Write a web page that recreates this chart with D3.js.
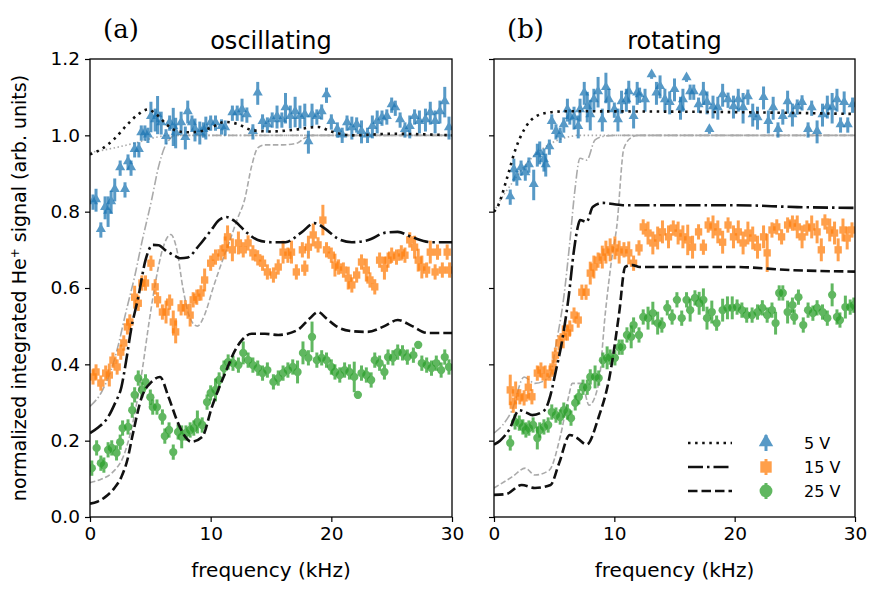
<!DOCTYPE html>
<html><head><meta charset="utf-8">
<script src="https://cdn.jsdelivr.net/npm/d3@7"></script>
<style>body{margin:0;background:#fff}svg{display:block}</style>
</head><body><svg id="c" width="885" height="595" font-family="DejaVu Sans"></svg>
<script>
// ---------- data: [frequency kHz, signal, error] ----------
const oscBlue=[[0.25,0.825,0.02],[0.5,0.83,0.03],[0.9,0.752,0.02],[1.25,0.81,0.03],[1.5,0.80,0.04],[1.75,0.825,0.03],[2.05,0.857,0.03],[2.5,0.914,0.02],[2.9,0.857,0.02],[3.15,0.93,0.02],[3.4,0.914,0.02],[3.7,0.962,0.02],[4.05,0.962,0.02],[4.25,1.006,0.02],[4.55,1.006,0.02],[4.8,1.0,0.02],[5.05,1.048,0.04],[5.4,1.04,0.03],[5.6,1.053,0.05],[5.9,1.032,0.03],[6.3,0.996,0.02],[6.6,1.032,0.02],[6.9,1.022,0.05],[7.1,1.006,0.04],[7.55,1.032,0.03],[7.9,0.993,0.03],[8.1,1.061,0.03],[8.45,1.032,0.02],[8.7,1.014,0.03],[9.1,1.006,0.03],[9.4,1.014,0.02],[9.6,1.019,0.03],[10.0,1.032,0.02],[10.4,1.032,0.02],[10.9,1.022,0.02],[11.2,1.019,0.02],[11.8,1.058,0.02],[12.2,1.058,0.02],[12.6,1.066,0.03],[13.0,1.053,0.02],[13.5,1.009,0.02],[13.9,1.11,0.03],[14.3,1.035,0.02],[14.7,1.027,0.02],[15.1,1.04,0.02],[15.5,1.048,0.03],[15.9,1.04,0.02],[16.2,1.071,0.04],[16.6,1.048,0.03],[17.0,1.061,0.04],[17.4,1.048,0.03],[17.8,1.053,0.03],[18.1,0.982,0.03],[18.4,1.053,0.03],[18.8,1.048,0.02],[19.2,1.061,0.02],[19.6,1.105,0.02],[20.0,1.035,0.02],[20.5,1.014,0.02],[20.9,1.0,0.02],[21.3,1.032,0.02],[21.7,1.019,0.03],[22.1,1.027,0.02],[22.5,1.009,0.03],[23.0,1.0,0.02],[23.4,1.022,0.03],[23.8,1.035,0.03],[24.2,1.045,0.02],[24.6,1.048,0.02],[25.0,1.079,0.02],[25.3,1.071,0.02],[25.7,1.04,0.02],[26.1,1.014,0.02],[26.5,1.022,0.03],[26.9,1.048,0.02],[27.3,1.035,0.03],[27.8,1.04,0.03],[28.2,1.058,0.03],[28.6,1.035,0.03],[29.0,1.061,0.03],[29.4,1.087,0.04],[29.75,1.019,0.03]];
const oscOrange=[[0.25,0.367,0.02],[0.5,0.38,0.02],[0.9,0.351,0.02],[1.3,0.377,0.02],[1.6,0.372,0.03],[1.9,0.411,0.02],[2.25,0.393,0.02],[2.55,0.432,0.02],[2.8,0.456,0.02],[3.1,0.498,0.02],[3.3,0.511,0.02],[3.7,0.576,0.03],[4.0,0.56,0.02],[4.3,0.613,0.02],[4.6,0.613,0.02],[5.05,0.665,0.02],[5.4,0.603,0.02],[5.6,0.569,0.02],[6.0,0.537,0.02],[6.3,0.537,0.03],[6.6,0.563,0.02],[6.9,0.511,0.03],[7.1,0.485,0.03],[7.55,0.548,0.02],[7.9,0.548,0.02],[8.3,0.529,0.03],[8.55,0.569,0.02],[8.85,0.576,0.02],[9.2,0.587,0.02],[9.5,0.621,0.03],[10.0,0.665,0.02],[10.4,0.681,0.02],[10.85,0.692,0.02],[11.2,0.705,0.03],[11.4,0.734,0.03],[11.8,0.70,0.03],[12.3,0.718,0.03],[12.7,0.70,0.02],[13.1,0.718,0.02],[13.5,0.692,0.02],[13.9,0.679,0.02],[14.3,0.665,0.02],[14.7,0.642,0.02],[15.2,0.634,0.02],[15.6,0.655,0.02],[16.0,0.694,0.03],[16.4,0.686,0.02],[16.7,0.694,0.03],[17.1,0.642,0.02],[17.6,0.70,0.02],[17.8,0.652,0.02],[18.1,0.707,0.03],[18.5,0.739,0.03],[18.9,0.713,0.02],[19.3,0.778,0.04],[19.6,0.70,0.02],[20.0,0.686,0.02],[20.3,0.66,0.03],[20.6,0.655,0.02],[21.0,0.647,0.02],[21.4,0.626,0.03],[21.7,0.608,0.02],[22.1,0.634,0.02],[22.5,0.668,0.02],[22.9,0.647,0.03],[23.2,0.621,0.02],[23.6,0.603,0.02],[24.0,0.673,0.02],[24.4,0.652,0.03],[24.7,0.673,0.02],[25.0,0.686,0.02],[25.4,0.681,0.02],[25.8,0.692,0.02],[26.1,0.686,0.02],[26.5,0.726,0.02],[26.9,0.707,0.03],[27.2,0.673,0.03],[27.5,0.655,0.03],[27.9,0.647,0.02],[28.2,0.694,0.03],[28.6,0.642,0.02],[28.8,0.694,0.02],[29.2,0.647,0.02],[29.6,0.694,0.02],[29.8,0.647,0.02]];
const oscGreen=[[0.15,0.128,0.02],[0.55,0.181,0.02],[0.9,0.141,0.02],[1.15,0.136,0.02],[1.5,0.176,0.02],[1.8,0.181,0.02],[2.2,0.168,0.02],[2.5,0.196,0.02],[2.7,0.233,0.02],[3.15,0.236,0.02],[3.5,0.28,0.02],[3.7,0.32,0.02],[4.0,0.364,0.02],[4.3,0.333,0.02],[4.6,0.354,0.02],[5.0,0.314,0.02],[5.2,0.288,0.02],[5.55,0.288,0.02],[6.0,0.262,0.02],[6.2,0.212,0.02],[6.55,0.228,0.02],[6.9,0.17,0.02],[7.3,0.223,0.02],[7.6,0.21,0.03],[7.95,0.22,0.02],[8.3,0.228,0.02],[8.6,0.233,0.02],[8.9,0.249,0.03],[9.3,0.241,0.02],[9.7,0.301,0.02],[10.0,0.325,0.02],[10.4,0.333,0.03],[10.7,0.359,0.02],[11.1,0.39,0.02],[11.45,0.406,0.02],[11.85,0.403,0.02],[12.3,0.398,0.02],[12.7,0.43,0.03],[13.1,0.411,0.02],[13.5,0.398,0.02],[13.9,0.39,0.02],[14.3,0.377,0.02],[14.7,0.385,0.02],[15.2,0.354,0.02],[15.6,0.364,0.02],[16.0,0.377,0.02],[16.4,0.385,0.02],[16.8,0.393,0.02],[17.2,0.38,0.03],[17.65,0.43,0.03],[18.1,0.417,0.02],[18.4,0.472,0.04],[18.8,0.411,0.02],[19.2,0.417,0.02],[19.6,0.411,0.02],[20.0,0.393,0.02],[20.3,0.38,0.02],[20.7,0.372,0.02],[21.1,0.385,0.02],[21.5,0.38,0.02],[21.9,0.367,0.04],[22.2,0.32,0.01],[22.5,0.377,0.02],[22.9,0.372,0.02],[23.3,0.359,0.02],[23.6,0.411,0.02],[24.0,0.403,0.02],[24.4,0.38,0.02],[24.7,0.419,0.02],[25.1,0.417,0.02],[25.5,0.432,0.02],[25.9,0.43,0.02],[26.3,0.419,0.02],[26.8,0.424,0.02],[27.2,0.451,0.01],[27.5,0.403,0.02],[27.9,0.398,0.02],[28.3,0.39,0.02],[28.7,0.403,0.02],[29.1,0.385,0.02],[29.4,0.419,0.02],[29.75,0.393,0.02]];
const rotBlue=[[1.35,0.838,0.02],[1.65,0.909,0.03],[1.9,0.888,0.02],[2.25,0.914,0.02],[2.6,0.901,0.02],[2.9,0.922,0.02],[3.3,0.87,0.04],[3.6,0.948,0.03],[3.8,0.954,0.03],[4.15,0.935,0.03],[4.3,0.922,0.03],[4.6,0.969,0.02],[4.8,1.035,0.02],[5.15,1.009,0.02],[5.5,1.0,0.02],[5.8,1.027,0.02],[6.1,1.066,0.03],[6.3,1.048,0.02],[6.65,1.045,0.03],[7.0,1.022,0.03],[7.15,1.066,0.03],[7.5,1.11,0.03],[7.75,1.074,0.04],[8.0,1.053,0.04],[8.3,1.092,0.03],[8.65,1.113,0.04],[9.0,1.04,0.03],[9.3,1.124,0.04],[9.55,1.092,0.03],[10.0,1.066,0.02],[10.3,1.04,0.03],[10.6,1.087,0.03],[11.0,1.092,0.03],[11.2,1.113,0.03],[11.6,1.048,0.03],[11.9,1.11,0.03],[12.1,1.105,0.02],[12.55,1.092,0.03],[13.1,1.158,0.01],[13.5,1.11,0.03],[13.8,1.127,0.03],[14.2,1.092,0.03],[14.6,1.085,0.03],[15.0,1.119,0.03],[15.5,1.071,0.03],[15.7,1.092,0.03],[16.0,1.15,0.01],[16.3,1.113,0.02],[16.6,1.113,0.02],[17.0,1.079,0.02],[17.4,1.11,0.03],[17.7,1.085,0.03],[17.9,1.014,0.01],[18.2,1.074,0.03],[18.6,1.071,0.03],[19.0,1.105,0.03],[19.45,1.092,0.02],[19.9,1.074,0.03],[20.3,1.092,0.03],[20.7,1.071,0.04],[21.1,1.10,0.02],[21.5,1.053,0.03],[21.9,1.045,0.03],[22.4,1.098,0.03],[22.8,1.035,0.03],[23.2,1.071,0.03],[23.6,1.014,0.02],[24.0,1.048,0.02],[24.4,1.087,0.03],[24.8,1.053,0.03],[25.2,1.074,0.02],[25.6,1.085,0.02],[26.1,1.014,0.02],[26.4,1.071,0.02],[26.85,1.009,0.03],[27.3,1.053,0.03],[27.7,1.074,0.03],[28.1,1.071,0.04],[28.5,1.092,0.03],[28.8,1.027,0.02],[29.1,1.085,0.03],[29.4,1.027,0.02],[29.8,1.079,0.02]];
const rotOrange=[[1.35,0.333,0.04],[1.6,0.293,0.02],[1.8,0.325,0.03],[2.15,0.315,0.02],[2.5,0.312,0.02],[2.85,0.34,0.03],[3.15,0.315,0.02],[3.6,0.377,0.02],[3.9,0.385,0.02],[4.25,0.367,0.03],[4.65,0.377,0.02],[4.9,0.393,0.02],[5.1,0.424,0.02],[5.4,0.456,0.02],[5.75,0.472,0.03],[6.1,0.482,0.02],[6.3,0.495,0.02],[6.65,0.529,0.02],[7.0,0.516,0.02],[7.3,0.589,0.02],[7.65,0.589,0.02],[8.0,0.639,0.03],[8.3,0.655,0.03],[8.65,0.673,0.02],[9.0,0.681,0.03],[9.3,0.694,0.03],[9.65,0.70,0.03],[10.05,0.705,0.03],[10.4,0.694,0.03],[10.8,0.70,0.02],[11.2,0.692,0.03],[11.6,0.665,0.02],[12.05,0.705,0.02],[12.4,0.76,0.02],[12.8,0.744,0.03],[13.2,0.718,0.03],[13.6,0.731,0.03],[14.0,0.747,0.03],[14.5,0.734,0.03],[14.9,0.757,0.02],[15.3,0.744,0.03],[15.7,0.734,0.03],[16.1,0.726,0.04],[16.5,0.707,0.03],[17.0,0.747,0.02],[17.4,0.707,0.02],[17.8,0.765,0.02],[18.2,0.76,0.03],[18.6,0.747,0.03],[19.0,0.72,0.03],[19.45,0.765,0.02],[19.9,0.734,0.03],[20.3,0.747,0.03],[20.7,0.718,0.03],[21.1,0.744,0.03],[21.5,0.731,0.03],[21.9,0.707,0.03],[22.4,0.734,0.03],[22.7,0.692,0.05],[23.1,0.752,0.02],[23.5,0.76,0.02],[23.9,0.734,0.02],[24.4,0.765,0.02],[24.8,0.77,0.02],[25.2,0.76,0.03],[25.6,0.734,0.03],[26.0,0.757,0.02],[26.4,0.76,0.03],[26.85,0.747,0.03],[27.2,0.70,0.03],[27.5,0.773,0.02],[27.9,0.752,0.03],[28.3,0.744,0.03],[28.6,0.70,0.03],[29.0,0.752,0.03],[29.35,0.731,0.03],[29.75,0.752,0.02]];
const rotGreen=[[1.35,0.194,0.02],[1.75,0.249,0.02],[2.1,0.246,0.02],[2.4,0.236,0.02],[2.65,0.228,0.02],[2.9,0.233,0.02],[3.25,0.241,0.02],[3.6,0.207,0.03],[3.8,0.228,0.02],[4.15,0.236,0.02],[4.5,0.241,0.02],[4.8,0.275,0.02],[5.15,0.267,0.02],[5.5,0.262,0.02],[5.8,0.28,0.02],[6.1,0.275,0.02],[6.4,0.259,0.02],[6.75,0.299,0.02],[7.05,0.315,0.02],[7.4,0.34,0.02],[7.75,0.34,0.02],[8.0,0.367,0.02],[8.4,0.367,0.03],[8.7,0.364,0.02],[9.05,0.411,0.02],[9.4,0.417,0.03],[9.65,0.419,0.02],[10.05,0.417,0.02],[10.4,0.445,0.02],[10.65,0.445,0.02],[11.05,0.477,0.02],[11.4,0.472,0.03],[11.6,0.503,0.02],[12.05,0.477,0.02],[12.4,0.524,0.02],[12.8,0.521,0.03],[13.2,0.534,0.03],[13.6,0.508,0.03],[13.95,0.503,0.02],[14.4,0.548,0.02],[14.8,0.524,0.02],[15.2,0.569,0.02],[15.6,0.521,0.02],[16.0,0.569,0.02],[16.3,0.542,0.03],[16.7,0.574,0.02],[17.05,0.56,0.03],[17.4,0.569,0.03],[17.7,0.521,0.03],[18.1,0.537,0.03],[18.5,0.508,0.02],[19.0,0.542,0.03],[19.4,0.548,0.03],[19.8,0.548,0.03],[20.2,0.55,0.02],[20.6,0.542,0.02],[21.0,0.529,0.02],[21.45,0.529,0.02],[21.9,0.537,0.02],[22.3,0.548,0.02],[22.7,0.529,0.02],[23.1,0.542,0.02],[23.4,0.508,0.03],[23.7,0.587,0.02],[24.0,0.587,0.02],[24.4,0.537,0.03],[24.8,0.555,0.02],[24.95,0.524,0.02],[25.3,0.576,0.02],[25.7,0.503,0.02],[26.1,0.542,0.02],[26.5,0.534,0.02],[26.85,0.548,0.02],[27.3,0.537,0.02],[27.7,0.521,0.02],[28.1,0.582,0.03],[28.5,0.524,0.02],[28.75,0.516,0.02],[29.2,0.55,0.03],[29.6,0.55,0.02],[29.9,0.555,0.02]];

// ---------- model curves: [frequency kHz, signal] ----------
const oscModel5=[[0,0.95],[1,0.965],[2,0.99],[3,1.025],[4,1.055],[4.8,1.068],[5.5,1.055],[6.3,1.03],[7,1.014],[8,1.008],[8.9,1.009],[10,1.02],[11.2,1.035],[12.2,1.03],[13.4,1.014],[15,1.01],[17,1.015],[18.9,1.022],[20,1.01],[21.7,1.0],[25,1.004],[30,1.0]];
const oscModel15=[[0,0.22],[0.7,0.235],[1.5,0.262],[2.1,0.3],[2.6,0.34],[3,0.41],[3.4,0.49],[4.0,0.576],[4.6,0.673],[5.2,0.713],[5.7,0.712],[6.2,0.70],[7.0,0.685],[7.5,0.678],[8.1,0.68],[9,0.71],[10,0.75],[10.7,0.778],[11.3,0.786],[12,0.775],[13,0.745],[13.9,0.726],[15,0.72],[16.2,0.72],[17.5,0.745],[18.6,0.77],[19.5,0.755],[20.5,0.73],[21.7,0.72],[23,0.725],[24.5,0.745],[25.5,0.747],[26.7,0.733],[28.3,0.72],[30,0.72]];
const oscModel25=[[0,0.035],[0.6,0.04],[1.25,0.052],[2,0.075],[2.6,0.105],[3.1,0.15],[3.5,0.21],[4.3,0.315],[5.1,0.354],[5.8,0.367],[6.5,0.315],[7.3,0.246],[7.9,0.21],[8.4,0.197],[9.3,0.21],[10.1,0.288],[11.2,0.377],[12.0,0.435],[12.6,0.464],[13.4,0.48],[14.5,0.48],[15.6,0.477],[17.2,0.49],[18.2,0.52],[18.9,0.537],[19.6,0.52],[20.5,0.498],[21.7,0.487],[23,0.485],[24.4,0.5],[25.5,0.516],[26.7,0.5],[28,0.482],[30,0.482]];
const oscRef5=[[0,0.955],[2,0.967],[4,0.982],[5.5,0.995],[6.5,1.0],[30,1.0]];
const oscRef15=[[0,0.29],[1,0.33],[2,0.41],[2.3,0.445],[3,0.54],[3.7,0.63],[4.3,0.72],[5.1,0.83],[5.7,0.92],[6.2,0.97],[6.6,0.99],[7,1.0],[30,1.0]];
const oscRef25=[[0,0.09],[1,0.1],[1.8,0.115],[2.9,0.17],[3.7,0.27],[4.4,0.40],[4.8,0.49],[5.4,0.61],[6.0,0.70],[6.7,0.74],[7.2,0.70],[7.7,0.60],[8.3,0.52],[8.9,0.50],[9.5,0.53],[10.2,0.6],[10.9,0.665],[11.6,0.725],[12.2,0.78],[12.8,0.83],[13.4,0.92],[13.9,0.967],[14.5,0.975],[16,0.975],[17.2,0.98],[17.8,0.993],[18.5,1.0],[30,1.0]];
const rotModel5=[[0,0.80],[0.25,0.81],[1.1,0.89],[1.75,0.96],[2.6,1.02],[3.4,1.048],[4.6,1.06],[6,1.063],[15,1.062],[22,1.06],[30,1.056]];
const rotModel15=[[0,0.19],[0.5,0.2],[1.25,0.228],[2.1,0.28],[2.6,0.275],[3.2,0.267],[4.2,0.28],[4.7,0.32],[5.1,0.377],[5.65,0.46],[6.2,0.576],[6.65,0.70],[7.0,0.765],[7.15,0.778],[7.7,0.773],[8.2,0.812],[9.05,0.823],[10.7,0.817],[20,0.817],[25.2,0.812],[30,0.81]];
const rotModel25=[[0,0.058],[1,0.06],[2.3,0.084],[3.4,0.076],[4.7,0.084],[5.4,0.14],[6.3,0.215],[6.9,0.207],[7.7,0.19],[8.7,0.262],[9.6,0.367],[10.4,0.534],[10.9,0.655],[11.5,0.66],[12.1,0.655],[20,0.655],[24.6,0.647],[30,0.643]];
const rotRef5=[[0,0.80],[0.25,0.815],[1.5,0.875],[3.2,0.943],[4.8,0.98],[6.2,0.996],[7,1.0],[30,1.0]];
const rotRef15=[[0,0.22],[0.7,0.24],[1.5,0.28],[2.5,0.367],[3.4,0.35],[4.6,0.367],[5.2,0.46],[5.8,0.576],[6.3,0.72],[6.7,0.85],[7.15,0.94],[7.7,0.935],[8.4,0.988],[9.2,0.998],[10,1.0],[30,1.0]];
const rotRef25=[[0,0.076],[1.5,0.105],[2.6,0.128],[3.4,0.11],[4.6,0.123],[5.5,0.21],[6.2,0.315],[6.5,0.35],[7.3,0.35],[7.9,0.293],[8.7,0.35],[9.25,0.534],[9.8,0.68],[10.2,0.76],[10.8,0.967],[11.5,0.996],[12,1.0],[30,1.0]];

const xTicks=[0,10,20,30];
const yTicks=[0,0.2,0.4,0.6,0.8,1.0,1.2];
const voltageLabels=["5 V","15 V","25 V"];
const panelTitles=["oscillating","rotating"];
const panelTags=["(a)","(b)"];

// ---------- drawing ----------
const svg=d3.select("#c");
const colors=["#1f77b4","#ff7f0e","#2ca02c"];
const shapes=[d3.symbolTriangle,d3.symbolSquare,d3.symbolCircle];
const symSize=[44,54,54];
const blackDash=["2.5,4.6","15,4,2.5,4","9.5,4"];
const grayDash=["1.5,2.5","9,2.5,1.5,2.5","5.5,2.5"];
const y=d3.scaleLinear().domain([0,1.2]).range([517,59]);
const panels=[
 {x0:90,x1:452,data:[oscBlue,oscOrange,oscGreen],model:[oscModel5,oscModel15,oscModel25],ref:[oscRef5,oscRef15,oscRef25],labels:true},
 {x0:494,x1:855,data:[rotBlue,rotOrange,rotGreen],model:[rotModel5,rotModel15,rotModel25],ref:[rotRef5,rotRef15,rotRef25],labels:false}
];
panels.forEach((p,pi)=>{
 const x=d3.scaleLinear().domain([0,30]).range([p.x0,p.x1]);
 const g=svg.append("g");
 const clipId="clip"+pi;
 svg.append("clipPath").attr("id",clipId).append("rect").attr("x",p.x0).attr("y",59).attr("width",p.x1-p.x0).attr("height",458);
 const line=d3.line().x(d=>x(d[0])).y(d=>y(d[1])).curve(d3.curveMonotoneX);
 const plot=g.append("g").attr("clip-path",`url(#${clipId})`);
 p.ref.forEach((c,i)=>{
  plot.append("path").attr("d",line(c)).attr("fill","none").attr("stroke","#aaaaaa").attr("stroke-width",1.6).attr("stroke-dasharray",grayDash[i]);
 });
 p.data.forEach((s,i)=>{
  const sg=plot.append("g");
  s.forEach(d=>{
   const pg=sg.append("g").attr("opacity",0.75);
   pg.append("line").attr("x1",x(d[0])).attr("x2",x(d[0])).attr("y1",y(d[1]-d[2])).attr("y2",y(d[1]+d[2])).attr("stroke",colors[i]).attr("stroke-width",3);
   pg.append("path").attr("d",d3.symbol(shapes[i],symSize[i])()).attr("transform",`translate(${x(d[0])},${y(d[1])+(i===0?-0.8:0)})`).attr("fill",colors[i]);
  });
 });
 p.model.forEach((c,i)=>{
  plot.append("path").attr("d",line(c)).attr("fill","none").attr("stroke","#111").attr("stroke-width",2.6).attr("stroke-dasharray",blackDash[i]);
 });
 const ax=d3.axisBottom(x).tickValues(xTicks).tickSize(5).tickPadding(5).tickFormat(d3.format("d"));
 const gx=g.append("g").attr("transform","translate(0,517)").call(ax);
 const ay=d3.axisLeft(y).tickValues(yTicks).tickSize(5).tickPadding(5).tickFormat(p.labels?d3.format(".1f"):"");
 const gy=g.append("g").attr("transform",`translate(${p.x0},0)`).call(ay);
 [gx,gy].forEach(a=>{a.select(".domain").remove();a.selectAll("line").attr("stroke","#000").attr("stroke-width",1.2);a.selectAll("text").attr("font-size",18.5).attr("fill","#000").attr("font-family","DejaVu Sans");});
 g.append("rect").attr("x",p.x0).attr("y",59).attr("width",p.x1-p.x0).attr("height",458).attr("fill","none").attr("stroke","#000").attr("stroke-width",1.3);
 g.append("text").attr("x",(p.x0+p.x1)/2).attr("y",49).attr("text-anchor","middle").attr("font-size",24).text(panelTitles[pi]);
 g.append("text").attr("x",p.x0+13).attr("y",38).attr("font-family","DejaVu Serif").attr("font-size",26).text(panelTags[pi]);
 g.append("text").attr("x",(p.x0+p.x1)/2).attr("y",577).attr("text-anchor","middle").attr("font-size",20).text("frequency (kHz)");
});
const yl=svg.append("text").attr("transform","translate(26,288) rotate(-90)").attr("text-anchor","middle").attr("font-size",19);
yl.append("tspan").text("normalized integrated He");
yl.append("tspan").attr("dy",-7).attr("font-size",12).text("+");
yl.append("tspan").attr("dy",7).text(" signal (arb. units)");
const lg=svg.append("g");
voltageLabels.forEach((t,i)=>{
 const yy=443+i*24;
 lg.append("line").attr("x1",688).attr("x2",732).attr("y1",yy).attr("y2",yy).attr("stroke","#111").attr("stroke-width",2.6).attr("stroke-dasharray",blackDash[i]);
 const m=lg.append("g").attr("opacity",0.75);
 m.append("line").attr("x1",766).attr("x2",766).attr("y1",yy-8).attr("y2",yy+8).attr("stroke",colors[i]).attr("stroke-width",3);
 m.append("path").attr("d",d3.symbol(shapes[i],[90,130,130][i])()).attr("transform",`translate(766,${yy+(i===0?-1:0)})`).attr("fill",colors[i]);
 lg.append("text").attr("x",804).attr("y",yy+6).attr("font-size",16).text(t);
});
</script></body></html>
